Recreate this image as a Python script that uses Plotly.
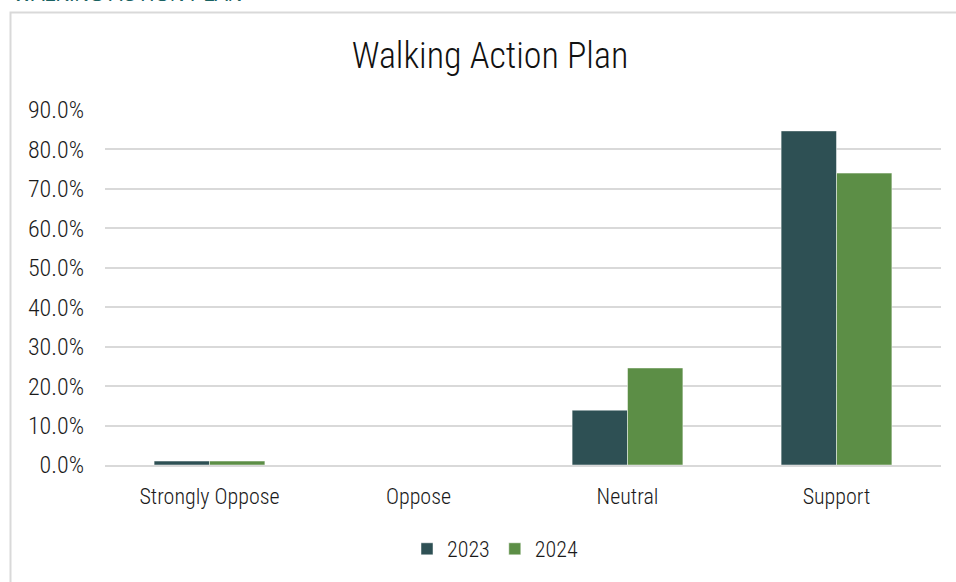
import plotly.graph_objects as go

categories = ["Strongly Oppose", "Oppose", "Neutral", "Support"]
series_names = ["2023", "2024"]
values_2023 = [0.010, 0.0, 0.139, 0.847]
values_2024 = [0.010, 0.0, 0.246, 0.740]
colors = ["#2E5054", "#5C8E46"]

FONT = "Roboto Condensed, Liberation Sans Narrow, DejaVu Sans Condensed, Roboto, sans-serif"

W, H = 956, 582
ML, MR, MT, MB = 105, 15, 110, 117
PW = W - ML - MR
PH = H - MT - MB


def px_to_paper_x(px):
    return (px - ML) / PW


def px_to_paper_y(py):
    return (H - MB - py) / PH


fig = go.Figure()
for name, vals, col in zip(series_names, [values_2023, values_2024], colors):
    fig.add_trace(go.Bar(
        x=categories, y=vals, name=name,
        marker=dict(color=col, line=dict(color="rgba(255,255,255,0.6)", width=0.8)),
    ))

fig.update_layout(
    width=W, height=H,
    margin=dict(l=ML, r=MR, t=MT, b=MB),
    paper_bgcolor="white", plot_bgcolor="white",
    barmode="group", bargap=0.47, bargroupgap=0,
    font=dict(family=FONT, color="#1a1a1a", size=20, weight=300),
    title=dict(text="Walking Action Plan", x=490 / W, xanchor="center",
               y=1 - 55 / H, yanchor="middle",
               font=dict(family=FONT, size=36, color="#111111", weight=300)),
    showlegend=True,
    legend=dict(orientation="h", x=px_to_paper_x(495), xanchor="center",
                y=px_to_paper_y(549), yanchor="middle",
                font=dict(size=22, color="#1a1a1a", weight=300), traceorder="normal",
                itemwidth=30),
    xaxis=dict(showgrid=False, showline=True, linecolor="#d9d9d9", linewidth=1.5,
               ticks="", ticklabelstandoff=11,
               tickfont=dict(size=22, color="#1a1a1a", weight=300)),
    yaxis=dict(range=[0, 0.9], dtick=0.1, tickformat=".1%", showgrid=True,
               gridcolor="#d9d9d9", gridwidth=1.5, zeroline=False, showline=False,
               ticks="", ticklen=0, ticklabelstandoff=20,
               tickfont=dict(size=24, color="#1a1a1a", weight=300)),
    shapes=[dict(type="rect", xref="paper", yref="paper",
                 x0=px_to_paper_x(10.5), x1=px_to_paper_x(980),
                 y0=px_to_paper_y(600), y1=px_to_paper_y(12.5),
                 line=dict(color="#d9d9d9", width=2), fillcolor="rgba(0,0,0,0)",
                 layer="below")],
    annotations=[dict(text="WALKING ACTION PLAN", xref="paper", yref="paper",
                      x=px_to_paper_x(11), xanchor="left",
                      y=px_to_paper_y(7), yanchor="bottom", showarrow=False,
                      font=dict(family="Liberation Sans, Arial, sans-serif",
                                size=20, color="#1A6262"))],
)

fig.write_html("out.html")
